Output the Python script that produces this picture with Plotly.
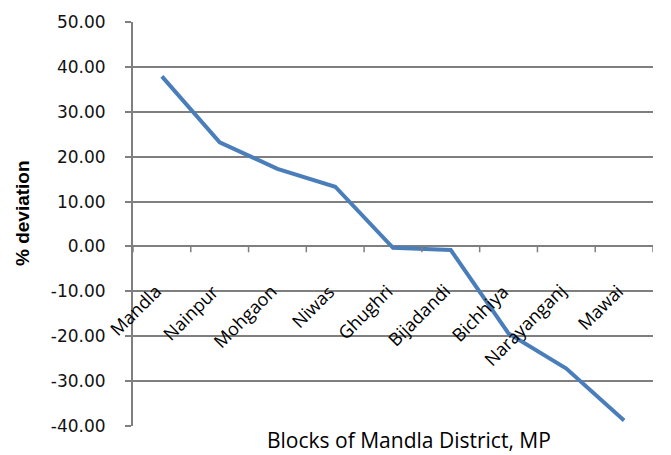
import plotly.graph_objects as go

blocks = ["Mandla", "Nainpur", "Mohgaon", "Niwas", "Ghughri",
          "Bijadandi", "Bichhiya", "Narayanganj", "Mawai"]
deviation = [37.9, 23.2, 17.3, 13.3, -0.3, -0.8, -19.4, -27.2, -38.8]
y_ticks = [-40, -30, -20, -10, 0, 10, 20, 30, 40, 50]
y_min, y_max = -40, 50

OFF = 8  # default page body margin (shifts content right and down)
W, H = 671 - OFF, 455 - OFF
L, R, T, B = 133 - OFF, 18, 22 - OFF, 29
pw, ph = W - L - R, H - T - B

grid = "#7f7f7f"

fig = go.Figure()
fig.add_trace(go.Scatter(
    x=blocks, y=deviation, mode="lines",
    line=dict(color="#4A7EBB", width=4),
    showlegend=False, hoverinfo="x+y",
))

# category-boundary tick marks on the horizontal axis crossing at zero
shapes = [
    dict(type="line", xref="x", yref="y",
         x0=i - 0.5, x1=i - 0.5, y0=0, y1=-1.3,
         line=dict(color=grid, width=1.5))
    for i in range(len(blocks) + 1)
]

annotations = [
    dict(text=b, x=b, y=0, xref="x", yref="y",
         textangle=-45, xanchor="right", yanchor="top",
         xshift=7, yshift=-30, showarrow=False,
         font=dict(family="Open Sans", size=18, color="#000000"))
    for b in blocks
]
annotations += [
    dict(text="% deviation", textangle=-90,
         xref="paper", yref="paper",
         x=(22 - 133) / pw, y=(426 - 213) / ph,
         xanchor="center", yanchor="middle", showarrow=False,
         font=dict(family="Liberation Sans", size=19, color="#000000",
                   weight="bold")),
    dict(text="Blocks of Mandla District, MP",
         xref="paper", yref="paper",
         x=(409 - 133) / pw, y=(426 - 440) / ph,
         xanchor="center", yanchor="middle", showarrow=False,
         font=dict(family="Open Sans", size=21, color="#000000")),
]

fig.update_layout(
    width=W, height=H,
    margin=dict(l=L, r=R, t=T, b=B, pad=0),
    paper_bgcolor="white", plot_bgcolor="rgba(0,0,0,0)",
    xaxis=dict(
        type="category", range=[-0.5, len(blocks) - 0.5],
        showline=False, ticks="", showticklabels=False,
        showgrid=False, zeroline=False, automargin=False,
    ),
    yaxis=dict(
        range=[y_min, y_max], tickvals=y_ticks,
        ticktext=[f"{v:.2f}   " for v in y_ticks],
        showline=True, linecolor=grid, linewidth=1.5,
        ticks="outside", ticklen=6, tickcolor=grid, tickwidth=1.5,
        showgrid=True, gridcolor=grid, gridwidth=1.5,
        zeroline=True, zerolinecolor=grid, zerolinewidth=1.5,
        automargin=False,
        tickfont=dict(family="DejaVu Sans", size=17, color="#111111"),
    ),
    shapes=shapes,
    annotations=annotations,
)

fig.write_html("out.html")
